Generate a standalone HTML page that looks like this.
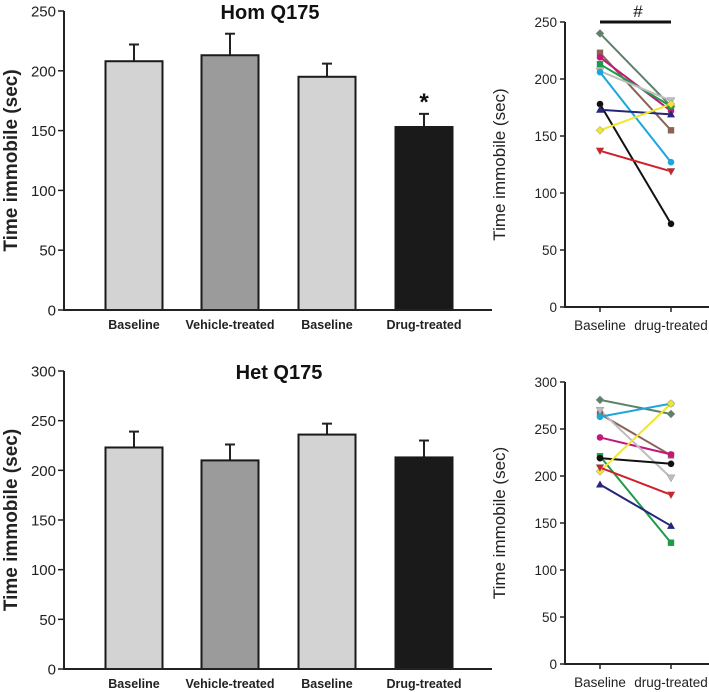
<!DOCTYPE html>
<html><head><meta charset="utf-8"><style>
html,body{margin:0;padding:0;background:#fff;}
svg{display:block;font-family:"Liberation Sans",Arial,sans-serif;}
</style></head><body>
<svg id="c" width="709" height="692" viewBox="0 0 709 692" xmlns="http://www.w3.org/2000/svg"></svg>
<script>
const barCats=["Baseline","Vehicle-treated","Baseline","Drug-treated"];
const barFills=["#d3d3d3","#9b9b9b","#d3d3d3","#1a1a1a"];
const homMeans=[208,213,195,153];
const homErr=[222,231,206,164];
const hetMeans=[223,210,236,213];
const hetErr=[239,226,247,230];
const homTicks=[0,50,100,150,200,250];
const hetTicks=[0,50,100,150,200,250,300];
const lineCats=["Baseline","drug-treated"];
const subjColors=["#5f8069","#8a6356","#c0197a","#1e9a48","#bdbdbd","#1ba6dc","#111111","#26267a","#f0e630","#d0202a"];
const subjShapes=["diamond","square","circle","square","tridown","circle","circle","triup","diamond","tridown"];
const homBase=[240,223,219,213,207,206,178,173,155,137];
const homDrug=[176,155,172,176,181,127,73,169,178,119];
const hetBase=[281,266,241,221,270,263,219,191,205,209];
const hetDrug=[266,222,223,129,198,277,213,147,277,180];

const NS="http://www.w3.org/2000/svg";
const svg=document.getElementById('c');
function el(t,a,p){const e=document.createElementNS(NS,t);for(const k in a)e.setAttribute(k,a[k]);(p||svg).appendChild(e);return e;}
function txt(s,a,p){const e=el('text',a,p);e.textContent=s;return e;}

function barChart(name,title,means,errs,ticks,y0,yTop,vmax,titleX,titleY,star){
  const g=el('g',{});
  
  
  const ax=64,xEnd=492;
  const y=v=>y0-(v/vmax)*(y0-yTop);
  const centers=[134,230,327,424],bw=57;
  means.forEach((m,i)=>{
    const cx=centers[i];
    const e=el('line',{x1:cx,x2:cx,y1:y(m),y2:y(errs[i]),stroke:'#222','stroke-width':2},g);
    
    
    const c=el('line',{x1:cx-5,x2:cx+5,y1:y(errs[i]),y2:y(errs[i]),stroke:'#222','stroke-width':2},g);
    
    
    const r=el('rect',{x:cx-bw/2,y:y(m),width:bw,height:y0-y(m),fill:barFills[i],stroke:'#1a1a1a','stroke-width':2},g);
    
    
    const l=txt(barCats[i],{x:cx,y:y0+19,'text-anchor':'middle','font-size':12.5,'font-weight':'bold',fill:'#222'},g);
    
    
  });
  el('line',{x1:ax,x2:ax,y1:yTop,y2:y0+1,stroke:'#222','stroke-width':2},g);
  el('line',{x1:ax-1,x2:xEnd,y1:y0,y2:y0,stroke:'#222','stroke-width':2},g);
  ticks.forEach(t=>{
    el('line',{x1:ax-6,x2:ax,y1:y(t),y2:y(t),stroke:'#222','stroke-width':1.5},g);
    const l=txt(String(t),{x:ax-8,y:y(t)+5.5,'text-anchor':'end','font-size':15,fill:'#222'},g);
    
    
  });
  const yt=txt('Time immobile (sec)',{x:0,y:0,'font-size':19,'font-weight':'bold','text-anchor':'middle',fill:'#222',transform:`translate(17,${(y0+yTop)/2}) rotate(-90)`},g);
  
  
  const tt=txt(title,{x:titleX,y:titleY,'font-size':20,'font-weight':'bold','text-anchor':'middle',fill:'#111'},g);
  
  
  if(star){const s=txt('*',{x:424,y:y(errs[3])-4,'font-size':24,'font-weight':'bold','text-anchor':'middle',fill:'#111'},g);
    
    }
}

function marker(shape,x,y,col,g){
  let m;
  if(shape==='circle')m=el('circle',{cx:x,cy:y,r:3.3,fill:col},g);
  else if(shape==='square')m=el('rect',{x:x-3.2,y:y-3.2,width:6.4,height:6.4,fill:col},g);
  else if(shape==='diamond')m=el('polygon',{points:`${x},${y-4} ${x+4},${y} ${x},${y+4} ${x-4},${y}`,fill:col,stroke:'#888','stroke-width':0.5},g);
  else if(shape==='triup')m=el('polygon',{points:`${x},${y-4} ${x+4},${y+3} ${x-4},${y+3}`,fill:col},g);
  else m=el('polygon',{points:`${x-4},${y-3} ${x+4},${y-3} ${x},${y+4}`,fill:col,stroke:'#999','stroke-width':0.5},g);
  
  
}

function lineChart(name,base,drug,ticks,y0,yTop,vmax,hash){
  const g=el('g',{});
  
  
  const ax=565,xEnd=709,xb=600,xd=671;
  const y=v=>y0-(v/vmax)*(y0-yTop);
  el('line',{x1:ax,x2:ax,y1:yTop,y2:y0+1,stroke:'#222','stroke-width':2},g);
  el('line',{x1:ax-1,x2:xEnd,y1:y0,y2:y0,stroke:'#222','stroke-width':2},g);
  ticks.forEach(t=>{
    el('line',{x1:ax-5,x2:ax,y1:y(t),y2:y(t),stroke:'#222','stroke-width':1.5},g);
    const l=txt(String(t),{x:ax-8,y:y(t)+5,'text-anchor':'end','font-size':13.5,fill:'#222'},g);
    
    
  });
  [xb,xd].forEach((x,i)=>{
    el('line',{x1:x,x2:x,y1:y0,y2:y0+5,stroke:'#222','stroke-width':1.5},g);
    const l=txt(lineCats[i],{x:x,y:y0+23,'text-anchor':'middle','font-size':13.5,fill:'#222'},g);
    
    
  });
  const yt=txt('Time immobile (sec)',{x:0,y:0,'font-size':17,'text-anchor':'middle',fill:'#222',transform:`translate(505,${(y0+yTop)/2}) rotate(-90)`},g);
  
  
  base.forEach((b,i)=>{
    const l=el('line',{x1:xb,y1:y(b),x2:xd,y2:y(drug[i]),stroke:subjColors[i],'stroke-width':2},g);
    
    
  });
  base.forEach((b,i)=>{marker(subjShapes[i],xb,y(b),subjColors[i],g);marker(subjShapes[i],xd,y(drug[i]),subjColors[i],g);});
  if(hash){
    const hb=el('line',{x1:600,x2:671,y1:22,y2:22,stroke:'#111','stroke-width':3},g);
    
    
    const h=txt('#',{x:638,y:17,'text-anchor':'middle','font-size':17,fill:'#111'},g);
    
    
  }
}

barChart('hom-bar-chart','Hom Q175',homMeans,homErr,homTicks,310,11,250,270,19,true);
barChart('het-bar-chart','Het Q175',hetMeans,hetErr,hetTicks,669,371,300,279,379,false);
lineChart('hom-line-chart',homBase,homDrug,[0,50,100,150,200,250],307,22,250,true);
lineChart('het-line-chart',hetBase,hetDrug,[0,50,100,150,200,250,300],664,382,300,false);
</script>
</body></html>
